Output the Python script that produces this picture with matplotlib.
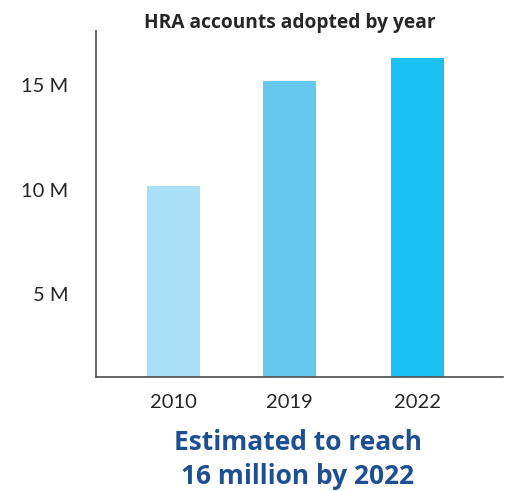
import matplotlib
matplotlib.use("Agg")
import matplotlib.pyplot as plt

years = ["2010", "2019", "2022"]
accounts_millions = [10.2, 15.2, 16.3]
bar_colors = ["#A9DFF7", "#66C8EC", "#1BC1F2"]
ytick_values = [5, 10, 15]
ytick_labels = ["5 M", "10 M", "15 M"]

plt.rcParams['font.family'] = ['Lato', 'DejaVu Sans']

W, H = 509, 491
fig = plt.figure(figsize=(W / 100, H / 100), dpi=100)
ax = fig.add_axes([96 / W, 1 - 377 / H, (503 - 96) / W, (377 - 31) / H])

positions = [0, 1, 2.103]
ax.bar(positions, accounts_millions, width=0.457, color=bar_colors, zorder=2)

ax.set_xlim(-0.668, 2.84)
ax.set_ylim(1.03, 17.6)
ax.set_xticks(positions)
ax.set_xticklabels(years, fontsize=14.5, color="#262626")
ax.set_yticks(ytick_values)
ax.set_yticklabels(ytick_labels, fontsize=14.5, color="#262626")
ax.tick_params(axis='both', length=0)
ax.tick_params(axis='y', pad=20)
ax.tick_params(axis='x', pad=12)

for s in ["top", "right"]:
    ax.spines[s].set_visible(False)
for s in ["left", "bottom"]:
    ax.spines[s].set_color("#595959")
    ax.spines[s].set_linewidth(1.3)

bold_font = ['Open Sans', 'DejaVu Sans']
fig.text(290 / W, 1 - 23 / H, "HRA accounts adopted by year", ha="center", va="center",
         fontsize=13.8, fontweight="bold", color="#262626", family=bold_font)
fig.text(298 / W, 1 - 442 / H, "Estimated to reach", ha="center", va="center",
         fontsize=19, fontweight="bold", color="#1D4F91", family=bold_font)
fig.text(298 / W, 1 - 476 / H, "16 million by 2022", ha="center", va="center",
         fontsize=19, fontweight="bold", color="#1D4F91", family=bold_font)

fig.savefig("out.png", dpi=100)
